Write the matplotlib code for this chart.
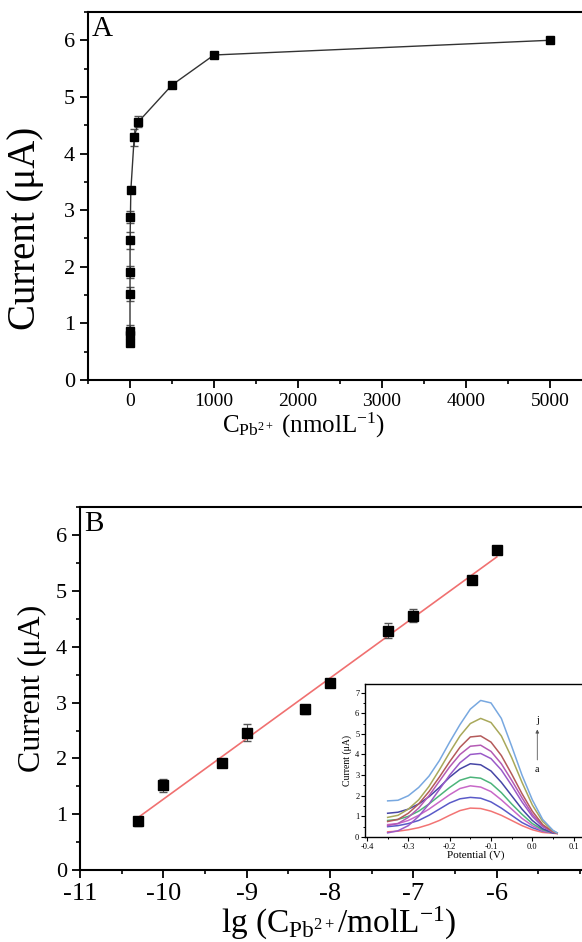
import numpy as np
import matplotlib
matplotlib.use("Agg")
import matplotlib.pyplot as plt
from matplotlib.ticker import MultipleLocator, FixedLocator

plt.rcParams['font.family'] = ['Liberation Serif', 'DejaVu Serif']
plt.rcParams['mathtext.fontset'] = 'custom'
plt.rcParams['mathtext.rm'] = 'Liberation Serif'
plt.rcParams['mathtext.it'] = 'Liberation Serif:italic'
plt.rcParams['axes.unicode_minus'] = False

# panel A: current vs concentration (nmol/L)
conc_nm = [0.01, 0.02, 0.05, 0.1, 0.5, 1, 5, 10, 50, 100, 500, 1000, 5000]
current_a = [0.66, 0.80, 0.87, 1.52, 1.91, 2.47, 2.88, 3.35, 4.29, 4.56, 5.21, 5.74, 6.00]
err_a = [0.06, 0.08, 0.10, 0.12, 0.10, 0.15, 0.10, 0.05, 0.15, 0.10, 0.06, 0.04, 0.04]

# panel B: current vs lg(C)
lg_conc = [-10.3, -10.0, -9.3, -9.0, -8.3, -8.0, -7.3, -7.0, -6.3, -6.0]
current_b = [0.87, 1.52, 1.91, 2.46, 2.88, 3.35, 4.29, 4.56, 5.20, 5.74]
err_b = [0.08, 0.12, 0.07, 0.15, 0.08, 0.04, 0.13, 0.12, 0.05, 0.04]
b_ticks = [-11, -10, -9, -8, -7, -6]

# inset: DPV curves a..j
potential = [-0.35, -0.325, -0.30, -0.275, -0.25, -0.225, -0.20, -0.175, -0.15,
             -0.125, -0.10, -0.075, -0.05, -0.025, 0.0, 0.025, 0.05, 0.06]
curve_a = [0.25, 0.28, 0.35, 0.45, 0.60, 0.80, 1.05, 1.28, 1.40, 1.38, 1.25, 1.05, 0.80, 0.55, 0.35, 0.22, 0.18, 0.16]
curve_b = [0.50, 0.55, 0.65, 0.80, 1.05, 1.35, 1.65, 1.85, 1.92, 1.88, 1.70, 1.40, 1.05, 0.70, 0.45, 0.28, 0.20, 0.18]
curve_c = [0.60, 0.65, 0.80, 1.05, 1.35, 1.70, 2.05, 2.35, 2.48, 2.42, 2.20, 1.80, 1.35, 0.90, 0.55, 0.30, 0.20, 0.18]
curve_d = [0.80, 0.85, 1.00, 1.25, 1.60, 2.00, 2.40, 2.75, 2.90, 2.85, 2.60, 2.15, 1.60, 1.10, 0.65, 0.35, 0.20, 0.18]
curve_e = [1.15, 1.20, 1.35, 1.60, 1.95, 2.40, 2.90, 3.30, 3.55, 3.50, 3.20, 2.65, 2.00, 1.35, 0.80, 0.40, 0.20, 0.18]
curve_f = [0.20, 0.30, 0.55, 1.00, 1.60, 2.30, 3.00, 3.60, 4.00, 4.05, 3.80, 3.25, 2.50, 1.70, 1.00, 0.50, 0.22, 0.18]
curve_g = [0.55, 0.65, 0.95, 1.40, 2.00, 2.70, 3.40, 4.00, 4.40, 4.45, 4.15, 3.55, 2.75, 1.90, 1.10, 0.55, 0.25, 0.18]
curve_h = [0.75, 0.85, 1.15, 1.60, 2.20, 2.90, 3.65, 4.35, 4.85, 4.90, 4.60, 3.95, 3.05, 2.10, 1.25, 0.60, 0.25, 0.18]
curve_i = [0.95, 1.05, 1.35, 1.80, 2.45, 3.25, 4.10, 4.90, 5.50, 5.75, 5.55, 4.90, 3.85, 2.65, 1.55, 0.75, 0.30, 0.20]
curve_j = [1.75, 1.78, 2.00, 2.40, 2.95, 3.70, 4.60, 5.45, 6.20, 6.62, 6.50, 5.75, 4.40, 3.00, 1.80, 0.85, 0.32, 0.20]
curves = [curve_a, curve_b, curve_c, curve_d, curve_e, curve_f, curve_g, curve_h, curve_i, curve_j]
curve_colors = ['#f27474', '#5a5ac8', '#c868c8', '#4cb47a', '#4646a6',
                '#9a5ac8', '#b45ab4', '#b45a5a', '#a8a85a', '#78a8e0']


def style_axes(ax, xsize, ysize):
    for side in ['left', 'bottom', 'top']:
        ax.spines[side].set_linewidth(1.5)
    ax.spines['right'].set_visible(False)
    ax.tick_params(which='major', direction='out', length=6, width=1.3,
                   top=False, right=False)
    ax.tick_params(which='minor', direction='out', length=3, width=1.2, top=False, right=False)
    ax.tick_params(axis='x', labelsize=xsize)
    ax.tick_params(axis='y', labelsize=ysize)


fig = plt.figure(figsize=(5.82, 9.42), dpi=100)

# ---- panel A ----
ax1 = fig.add_axes([0.1512, 0.5966, 0.866, 0.3907])
ax1.errorbar(conc_nm, current_a, yerr=err_a, color='#333333', lw=1, marker='s',
             ms=6, mfc='black', mec='black', ecolor='#555555', elinewidth=0.8, capsize=3)
ax1.set_xlim(-500, 5500)
ax1.set_ylim(0, 6.5)
ax1.xaxis.set_major_locator(MultipleLocator(1000))
ax1.xaxis.set_minor_locator(MultipleLocator(500))
ax1.yaxis.set_major_locator(MultipleLocator(1))
ax1.yaxis.set_minor_locator(MultipleLocator(0.5))
style_axes(ax1, 14, 16)
ax1.set_xlabel(r'C$_{\mathrm{Pb}^{2+}}$ (nmolL$^{-1}$)', fontsize=18)
ax1.set_ylabel('Current (μA)', fontsize=28)
ax1.xaxis.set_label_coords(0.427, -0.085)
ax1.yaxis.set_label_coords(-0.088, 0.413)
ax1.text(0.008, 0.99, 'A', transform=ax1.transAxes, fontsize=21, va='top', ha='left')

# ---- panel B ----
ax2 = fig.add_axes([0.1375, 0.0764, 0.888, 0.385])
fit = np.polyfit(lg_conc, current_b, 1)
fit_x = np.array([lg_conc[0], lg_conc[-1]])
ax2.plot(fit_x, np.polyval(fit, fit_x), color='#f07070', lw=1.2, zorder=1)
ax2.errorbar(lg_conc, current_b, yerr=err_b, ls='none', marker='s', ms=7,
             mfc='black', mec='black', ecolor='#555555', elinewidth=0.8, capsize=3, zorder=2)
ax2.set_xlim(-11, -4.8)
ax2.set_ylim(0, 6.5)
ax2.xaxis.set_major_locator(FixedLocator(b_ticks))
ax2.xaxis.set_minor_locator(MultipleLocator(0.5))
ax2.yaxis.set_major_locator(MultipleLocator(1))
ax2.yaxis.set_minor_locator(MultipleLocator(0.5))
style_axes(ax2, 19, 16)
ax2.set_xlabel(r'lg (C$_{\mathrm{Pb}^{2+}}$/molL$^{-1}$)', fontsize=24, labelpad=0)
ax2.set_ylabel('Current (μA)', fontsize=23, labelpad=6)
ax2.text(0.008, 0.99, 'B', transform=ax2.transAxes, fontsize=21, va='top', ha='left')

# ---- inset ----
ax3 = fig.add_axes([0.627, 0.1115, 0.38, 0.162])
for ys, col in zip(curves, curve_colors):
    ax3.plot(potential, ys, color=col, lw=1.1)
ax3.set_xlim(-0.405, 0.13)
ax3.set_ylim(0, 7.4)
ax3.xaxis.set_major_locator(MultipleLocator(0.1))
ax3.xaxis.set_minor_locator(MultipleLocator(0.05))
ax3.yaxis.set_major_locator(MultipleLocator(1))
ax3.yaxis.set_minor_locator(MultipleLocator(0.5))
for side in ['left', 'bottom', 'top']:
    ax3.spines[side].set_linewidth(1.0)
ax3.spines['right'].set_visible(False)
ax3.tick_params(which='major', direction='out', length=3, width=0.8, labelsize=6, pad=1)
ax3.tick_params(which='minor', direction='out', length=1.5, width=0.7)
ax3.set_xticklabels([f'{v:.1f}' for v in ax3.get_xticks()])
ax3.set_xlabel('Potential (V)', fontsize=8, labelpad=0)
ax3.set_ylabel('Current (μA)', fontsize=7, labelpad=2)
ax3.annotate('', xy=(0.012, 5.35), xytext=(0.012, 3.6),
             arrowprops=dict(arrowstyle='-|>', color='#555555', lw=0.6, mutation_scale=5))
ax3.text(0.012, 5.45, 'j', fontsize=7, ha='center', va='bottom')
ax3.text(0.012, 3.5, 'a', fontsize=7, ha='center', va='top')

plt.savefig('out.png', dpi=100)
